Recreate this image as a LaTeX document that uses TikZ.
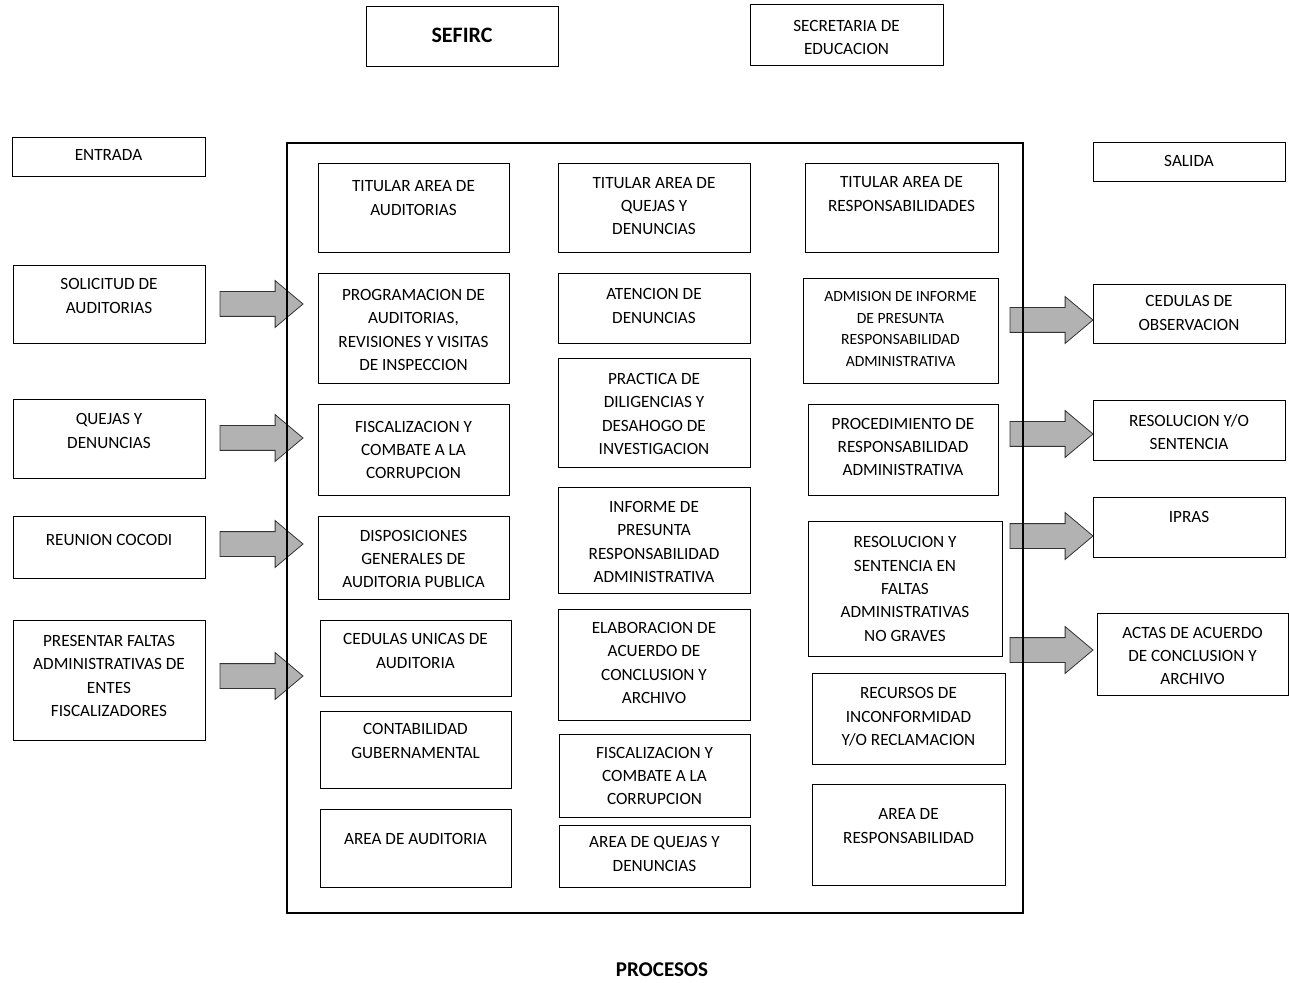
\documentclass[tikz,border=0pt]{standalone}
\usepackage{fontspec}
\setmainfont{Carlito}
\usetikzlibrary{fit,shapes.arrows}

\tikzset{
  procbox/.style={draw, line width=0.5pt, inner sep=0pt},
  proctext/.style={align=center, inner sep=0pt, font=\fontsize{8.6}{11.7}\selectfont},
  smalltext/.style={proctext, font=\fontsize{7.8}{10.8}\selectfont},
  fatarrow/.style={single arrow, anchor=tail, fill=gray!60, draw=black!80, line width=0.4pt,
    inner sep=0pt, outer sep=0pt, inner ysep=6pt, single arrow head extend=5.5pt,
    single arrow tip angle=80, minimum height=41.5pt}
}

% caja: [estilo] nombre, x1, y1, x2, y2, y del texto, texto
\newcommand{\procnode}[8][proctext]{%
  \node[procbox, fit={(#3,#4) (#5,#6)}] (#2) {};
  \node[#1] (#2-t) at ({(#3+#5)/2},#7) {#8};
}

\begin{document}
\begin{tikzpicture}[x=0.5pt, y=-0.5pt]
  \useasboundingbox (0,0) rectangle (1289,983);

  % --- encabezado ---
  \node[procbox, fit={(366,7) (558,67)}] (sefirc) {};
  \node[proctext, font=\fontsize{11}{13}\selectfont\bfseries] (sefirc-t) at (462,35) {SEFIRC};
  \procnode{secEdu}{750}{5}{943}{66}{37.5}{SECRETARIA DE\\EDUCACION}

  % --- entradas ---
  \procnode{entrada}{12}{138}{205}{177}{155}{ENTRADA}
  \procnode{solicitud}{13}{266}{205}{344}{296}{SOLICITUD DE\\AUDITORIAS}
  \procnode{quejasIn}{13}{400}{205}{479}{431}{QUEJAS Y\\DENUNCIAS}
  \procnode{cocodi}{13}{516}{205}{578}{540}{REUNION COCODI}
  \procnode{faltas}{13}{620}{205}{740}{676}{PRESENTAR FALTAS\\ADMINISTRATIVAS DE\\ENTES\\FISCALIZADORES}

  % --- flechas de entrada y salida ---
  \node[fatarrow] (inA) at (220,304) {};
  \node[fatarrow] (inB) at (220,438) {};
  \node[fatarrow] (inC) at (220,544) {};
  \node[fatarrow] (inD) at (220,676) {};
  \node[fatarrow] (outA) at (1010,320) {};
  \node[fatarrow] (outB) at (1010,434) {};
  \node[fatarrow] (outC) at (1010,536) {};
  \node[fatarrow] (outD) at (1010,650) {};

  % --- marco de procesos ---
  \node[draw, line width=0.7pt, inner sep=0pt, fit={(287,143) (1023,913)}] (procesos) {};

  % columna auditorias
  \procnode{titAud}{318}{164}{509}{253}{198}{TITULAR AREA DE\\AUDITORIAS}
  \procnode{progAud}{318}{274}{509}{384}{330}{PROGRAMACION DE\\AUDITORIAS,\\REVISIONES Y VISITAS\\DE INSPECCION}
  \procnode{fiscalA}{318}{405}{509}{495}{450}{FISCALIZACION Y\\COMBATE A LA\\CORRUPCION}
  \procnode{dispos}{318}{516}{509}{599}{559}{DISPOSICIONES\\GENERALES DE\\AUDITORIA PUBLICA}
  \procnode{cedUni}{320}{620}{511}{696}{651}{CEDULAS UNICAS DE\\AUDITORIA}
  \procnode{contab}{320}{711}{511}{788}{741}{CONTABILIDAD\\GUBERNAMENTAL}
  \procnode{areaAud}{320}{809}{511}{887}{839}{AREA DE AUDITORIA}

  % columna quejas
  \procnode{titQue}{558}{164}{750}{253}{206}{TITULAR AREA DE\\QUEJAS Y\\DENUNCIAS}
  \procnode{atencion}{558}{274}{750}{344}{306}{ATENCION DE\\DENUNCIAS}
  \procnode{practica}{558}{359}{750}{468}{414}{PRACTICA DE\\DILIGENCIAS Y\\DESAHOGO DE\\INVESTIGACION}
  \procnode{informe}{558}{488}{750}{593}{542}{INFORME DE\\PRESUNTA\\RESPONSABILIDAD\\ADMINISTRATIVA}
  \procnode{elabora}{558}{609}{750}{720}{663}{ELABORACION DE\\ACUERDO DE\\CONCLUSION Y\\ARCHIVO}
  \procnode{fiscalB}{559}{734}{750}{817}{776}{FISCALIZACION Y\\COMBATE A LA\\CORRUPCION}
  \procnode{areaQue}{559}{825}{750}{887}{854}{AREA DE QUEJAS Y\\DENUNCIAS}

  % columna responsabilidades
  \procnode{titRes}{805}{164}{998}{253}{194}{TITULAR AREA DE\\RESPONSABILIDADES}
  \procnode[smalltext]{admision}{803}{279}{998}{384}{329}{ADMISION DE INFORME\\DE PRESUNTA\\RESPONSABILIDAD\\ADMINISTRATIVA}
  \procnode{proced}{808}{405}{998}{495}{447}{PROCEDIMIENTO DE\\RESPONSABILIDAD\\ADMINISTRATIVA}
  \procnode{resolFal}{808}{521}{1002}{656}{589}{RESOLUCION Y\\SENTENCIA EN\\FALTAS\\ADMINISTRATIVAS\\NO GRAVES}
  \procnode{recursos}{812}{673}{1005}{764}{717}{RECURSOS DE\\INCONFORMIDAD\\Y/O RECLAMACION}
  \procnode{areaRes}{812}{784}{1005}{885}{826}{AREA DE\\RESPONSABILIDAD}

  % --- salidas ---
  \procnode{salida}{1093}{143}{1285}{182}{161}{SALIDA}
  \procnode{cedObs}{1093}{285}{1285}{344}{313}{CEDULAS DE\\OBSERVACION}
  \procnode{resSent}{1093}{401}{1285}{461}{432}{RESOLUCION Y/O\\SENTENCIA}
  \procnode{ipras}{1093}{497}{1285}{557}{517}{IPRAS}
  \procnode{actas}{1097}{613}{1288}{695}{656}{ACTAS DE ACUERDO\\DE CONCLUSION Y\\ARCHIVO}

  \node[font=\fontsize{10.5}{12}\selectfont\bfseries, inner sep=0pt] (procesos-t) at (662,970) {PROCESOS};
\end{tikzpicture}
\end{document}
